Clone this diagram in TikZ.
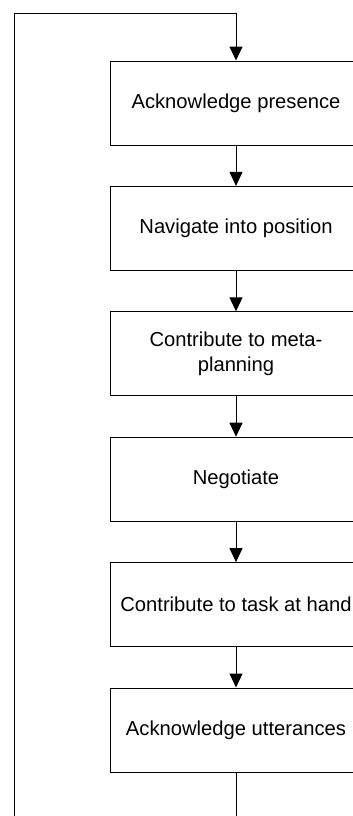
\documentclass[tikz,border=0pt]{standalone}
\usepackage{fontspec}
\setmainfont{Liberation Sans}
\usepackage{tkz-euclide}
\usetikzlibrary{arrows.meta,positioning}

\begin{document}
\begin{tikzpicture}[x=0.5pt,y=-0.5pt,node distance=20.2pt,
  stepbox/.style={draw,line width=0.5pt,minimum width=126pt,minimum height=42pt,inner sep=0pt,align=center,font=\fontsize{10.1}{12.5}\selectfont},
  flow/.style={line width=0.5pt,-{Triangle[length=7pt,width=6.5pt]}}]
\useasboundingbox (0,0) rectangle (353,816);
\clip (0,0) rectangle (353,816);
\node[stepbox] (ackpres) at (236,103) {Acknowledge presence};
\node[stepbox,below=of ackpres] (navpos) {Navigate into position};
\node[stepbox,below=of navpos] (metaplan) {Contribute to meta-\\planning};
\node[stepbox,below=of metaplan] (negot) {Negotiate};
\node[stepbox,below=of negot] (taskhand) {Contribute to task at hand};
\node[stepbox,below=of taskhand] (ackutt) {Acknowledge utterances};
\foreach \a/\b in {ackpres/navpos,navpos/metaplan,metaplan/negot,negot/taskhand,taskhand/ackutt}
  \draw[flow] (\a.south) -- (\b.north);
% loop back to the top
\tkzDefPoints{14/840/L, 14/13/T}
\draw[flow] (ackutt.south) -- (ackutt.south |- L) -- (L) -- (T) -- (ackpres.north |- T) -- (ackpres.north);
\end{tikzpicture}
\end{document}
